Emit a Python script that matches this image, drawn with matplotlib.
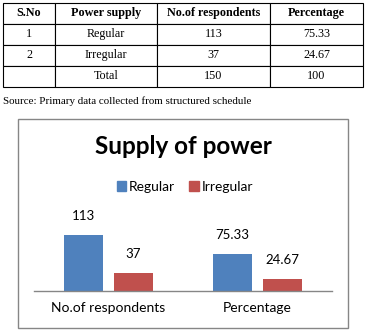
import matplotlib.pyplot as plt
from matplotlib.patches import Rectangle
import numpy as np

# Table data
headers = ["S.No", "Power supply", "No.of respondents", "Percentage"]
sno = ["1", "2", ""]
supply = ["Regular", "Irregular", "Total"]
respondents = ["113", "37", "150"]
percentage = ["75.33", "24.67", "100"]

# Chart data
categories = ["No.of respondents", "Percentage"]
regular = [113, 75.33]
irregular = [37, 24.67]
regular_labels = ["113", "75.33"]
irregular_labels = ["37", "24.67"]

W, H = 365, 332
fig = plt.figure(figsize=(W / 100, H / 100), dpi=100)

def fx(x):
    return x / W

def fy(y):
    return 1 - y / H

# ---- table ----
tax = fig.add_axes([fx(3), fy(87), fx(360), (87 - 3) / H])
tax.axis("off")
rows = [list(r) for r in zip(sno, supply, respondents, percentage)]
col_w = np.array([52, 102, 113, 93], dtype=float)
tbl = tax.table(cellText=rows, colLabels=headers, colWidths=list(col_w / col_w.sum()),
                cellLoc="center", bbox=[0, 0, 1, 1])
tbl.auto_set_font_size(False)
for (r, c), cell in tbl.get_celld().items():
    cell.set_linewidth(0.8)
    cell.set_edgecolor("black")
    cell.get_text().set_fontfamily("Liberation Serif")
    cell.get_text().set_fontsize(8.7)
    if r == 0:
        cell.get_text().set_fontweight("bold")

fig.text(fx(3), fy(101), "Source: Primary data collected from structured schedule",
         family="Liberation Serif", fontsize=7.9, ha="left", va="center")

# ---- chart box ----
fig.patches.append(Rectangle((fx(18), fy(328)), fx(330), (328 - 119) / H,
                             transform=fig.transFigure, fill=False,
                             edgecolor="#868686", linewidth=1))

fig.text(fx(183), fy(147), "Supply of power", family="Lato", fontweight="bold",
         fontsize=17.5, ha="center", va="center")

blue = "#4F81BD"
red = "#C0504D"

ax = fig.add_axes([fx(34), fy(291), fx(298), 59.5 / H])
x = np.arange(len(categories))
bw = 0.268
b1 = ax.bar(x - 0.168, regular, bw, color=blue)
b2 = ax.bar(x + 0.168, irregular, bw, color=red)
ax.set_xlim(-0.5, 1.5)
ax.set_ylim(0, 120)
for bars, labs in [(b1, regular_labels), (b2, irregular_labels)]:
    for b, lab in zip(bars, labs):
        ax.annotate(lab, (b.get_x() + b.get_width() / 2, b.get_height()),
                    xytext=(0, 9), textcoords="offset points", ha="center",
                    va="bottom", family="Lato", fontsize=9.5, annotation_clip=False)

ax.set_xticks(x)
ax.set_xticklabels(categories, family="Lato", fontsize=10)
ax.tick_params(axis="x", length=0, pad=8)
ax.set_yticks([])
for s in ["top", "left", "right"]:
    ax.spines[s].set_visible(False)
ax.spines["bottom"].set_color("#868686")
ax.spines["bottom"].set_linewidth(1)

handles = [Rectangle((0, 0), 1, 1, color=blue), Rectangle((0, 0), 1, 1, color=red)]
fig.legend(handles, ["Regular", "Irregular"], loc="center",
           bbox_to_anchor=(fx(185), fy(187)), ncol=2, frameon=False,
           prop={"family": "Lato", "size": 10}, handlelength=0.7,
           handleheight=0.7, handletextpad=0.2, columnspacing=1.0)

fig.savefig("out.png", dpi=100)
